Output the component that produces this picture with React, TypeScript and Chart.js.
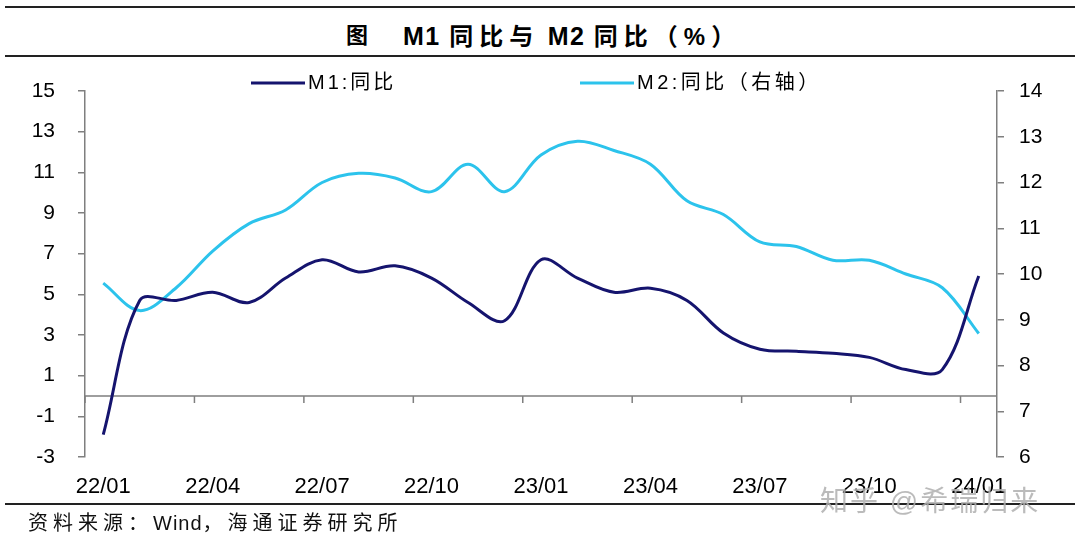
import React, { useEffect, useRef } from "react";
import { Chart, registerables } from "chart.js";

Chart.register(...registerables);

// ---------- data ----------
const months = [
  "22/01", "22/02", "22/03", "22/04", "22/05", "22/06", "22/07", "22/08", "22/09", "22/10", "22/11", "22/12",
  "23/01", "23/02", "23/03", "23/04", "23/05", "23/06", "23/07", "23/08", "23/09", "23/10", "23/11", "23/12",
  "24/01",
];
const m1Yoy = [
  -1.9, 4.7, 4.7, 5.1, 4.6, 5.8, 6.7, 6.1, 6.4, 5.8, 4.6, 3.7,
  6.7, 5.8, 5.1, 5.3, 4.7, 3.1, 2.3, 2.2, 2.1, 1.9, 1.3, 1.3,
  5.9,
];
const m2Yoy = [
  9.8, 9.2, 9.7, 10.5, 11.1, 11.4, 12.0, 12.2, 12.1, 11.8, 12.4, 11.8,
  12.6, 12.9, 12.7, 12.4, 11.6, 11.3, 10.7, 10.6, 10.3, 10.3, 10.0, 9.7,
  8.7,
];
const shownMonthLabels = ["22/01", "22/04", "22/07", "22/10", "23/01", "23/04", "23/07", "23/10", "24/01"];
const seriesNames = ["M1:同比", "M2:同比（右轴）"];
const seriesColors = ["#15146e", "#2cc3ec"];

const AXIS_GRAY = "#7f7f7f";
const FONT = '"Liberation Sans", Arial, "Noto Sans CJK SC", sans-serif';

// draws the zero line (x axis) and the quarterly tick marks through the scales
const zeroAxisPlugin = {
  id: "zeroAxis",
  beforeDatasetsDraw(chart: any) {
    const { ctx, chartArea, scales } = chart;
    const xs = scales.x;
    const y0 = scales.y.getPixelForValue(0);
    const half = (xs.getPixelForValue(1) - xs.getPixelForValue(0)) / 2;
    ctx.save();
    ctx.strokeStyle = AXIS_GRAY;
    ctx.lineWidth = 1.5;
    ctx.beginPath();
    ctx.moveTo(chartArea.left, y0);
    ctx.lineTo(chartArea.right, y0);
    for (let i = 0; i < months.length; i += 3) {
      const x = xs.getPixelForValue(i) - half;
      ctx.moveTo(x, y0);
      ctx.lineTo(x, y0 + 7);
    }
    ctx.stroke();
    ctx.restore();
  },
};

// custom legend (line samples + letter-spaced labels)
const legendStarts = [251, 580];
const legendSpacing = ["3px", "3.5px"];
const legendPlugin = {
  id: "customLegend",
  afterDraw(chart: any) {
    const { ctx } = chart;
    const y = 83;
    chart.data.datasets.forEach((ds: any, i: number) => {
      ctx.save();
      const x0 = legendStarts[i];
      ctx.strokeStyle = ds.borderColor;
      ctx.lineWidth = 3;
      ctx.beginPath();
      ctx.moveTo(x0, y);
      ctx.lineTo(x0 + 54, y);
      ctx.stroke();
      ctx.fillStyle = "#000";
      ctx.font = `20px ${FONT}`;
      try { (ctx as any).letterSpacing = legendSpacing[i]; } catch (e) {}
      ctx.textBaseline = "middle";
      ctx.textAlign = "left";
      ctx.fillText(ds.label, x0 + 57, y);
      ctx.restore();
    });
  },
};

export default function App() {
  const canvasRef = useRef<HTMLCanvasElement | null>(null);

  useEffect(() => {
    if (!canvasRef.current) return;
    Chart.defaults.font.family = FONT;
    const chart = new Chart(canvasRef.current, {
      type: "line",
      data: {
        labels: months,
        datasets: [
          {
            label: seriesNames[0],
            data: m1Yoy,
            borderColor: seriesColors[0],
            backgroundColor: seriesColors[0],
            borderWidth: 3,
            pointRadius: 0,
            tension: 0.35,
            yAxisID: "y",
          },
          {
            label: seriesNames[1],
            data: m2Yoy,
            borderColor: seriesColors[1],
            backgroundColor: seriesColors[1],
            borderWidth: 3,
            pointRadius: 0,
            tension: 0.35,
            yAxisID: "y1",
          },
        ],
      },
      options: {
        responsive: false,
        animation: false,
        events: [],
        layout: { padding: { left: 32, right: 38, top: 91, bottom: 45 } },
        plugins: {
          legend: { display: false },
          tooltip: { enabled: false },
          title: { display: false },
        },
        scales: {
          x: {
            type: "category",
            offset: true,
            grid: { display: false, drawTicks: false, tickLength: 0 },
            border: { display: false },
            ticks: {
              autoSkip: false,
              maxRotation: 0,
              minRotation: 0,
              padding: 17,
              color: "#000",
              font: { size: 22 },
              callback: (_v: any, i: number) =>
                shownMonthLabels.includes(months[i]) ? months[i] : "",
            },
            afterFit: (s: any) => { s.height = 43; },
          },
          y: {
            position: "left",
            min: -3,
            max: 15,
            ticks: { stepSize: 2, padding: 23, color: "#000", font: { size: 21 } },
            grid: {
              display: true,
              drawOnChartArea: false,
              drawTicks: true,
              tickLength: 7,
              color: AXIS_GRAY,
              lineWidth: 1.5,
            },
            border: { display: true, color: AXIS_GRAY, width: 1.5 },
            afterFit: (s: any) => { s.width = 53; },
          },
          y1: {
            position: "right",
            min: 6,
            max: 14,
            ticks: { stepSize: 1, padding: 15, color: "#000", font: { size: 21 } },
            grid: {
              display: true,
              drawOnChartArea: false,
              drawTicks: true,
              tickLength: 7,
              color: AXIS_GRAY,
              lineWidth: 1.5,
            },
            border: { display: true, color: AXIS_GRAY, width: 1.5 },
            afterFit: (s: any) => { s.width = 45; },
          },
        },
      },
      plugins: [zeroAxisPlugin, legendPlugin],
    });
    return () => chart.destroy();
  }, []);

  const rule = (top: number): React.CSSProperties => ({
    position: "absolute",
    left: 5,
    width: 1070,
    top,
    height: 2,
    background: "#222",
  });

  const titleText: React.CSSProperties = {
    position: "absolute",
    top: 18,
    fontSize: 24,
    fontWeight: "bold",
    lineHeight: "36px",
    color: "#000",
    whiteSpace: "pre",
  };
  const latin: React.CSSProperties = { fontSize: 25, letterSpacing: 1.5 };
  const cjk: React.CSSProperties = { letterSpacing: 6 };

  return (
    <div
      style={{
        position: "fixed",
        left: 0,
        top: 0,
        width: 1080,
        height: 545,
        background: "#fff",
        overflow: "hidden",
        fontFamily: FONT,
      }}
    >
      <div style={rule(6)} />
      <div style={{ ...titleText, left: 346, fontSize: 22 }}>图</div>
      <div style={{ ...titleText, left: 403 }}>
        <span style={latin}>M1 </span>
        <span style={cjk}>同比与</span>
        <span style={latin}> M2 </span>
        <span style={cjk}>同比（%）</span>
      </div>
      <div style={rule(55)} />
      <canvas
        ref={canvasRef}
        width={1080}
        height={545}
        style={{ position: "absolute", left: 0, top: 0, width: 1080, height: 545 }}
      />
      <div style={rule(503)} />
      <div
        style={{
          position: "absolute",
          left: 28,
          top: 509,
          fontSize: 20,
          lineHeight: "28px",
          letterSpacing: 5,
          color: "#111",
          whiteSpace: "pre",
        }}
      >
        资料来源：<span style={{ letterSpacing: 1 }}>Wind</span>，海通证券研究所
      </div>
      <div
        style={{
          position: "absolute",
          left: 820,
          top: 483,
          fontSize: 28,
          lineHeight: "38px",
          color: "rgba(175,175,175,0.85)",
          whiteSpace: "pre",
          letterSpacing: 2,
        }}
      >
        知乎 @希瑞归来
      </div>
    </div>
  );
}
